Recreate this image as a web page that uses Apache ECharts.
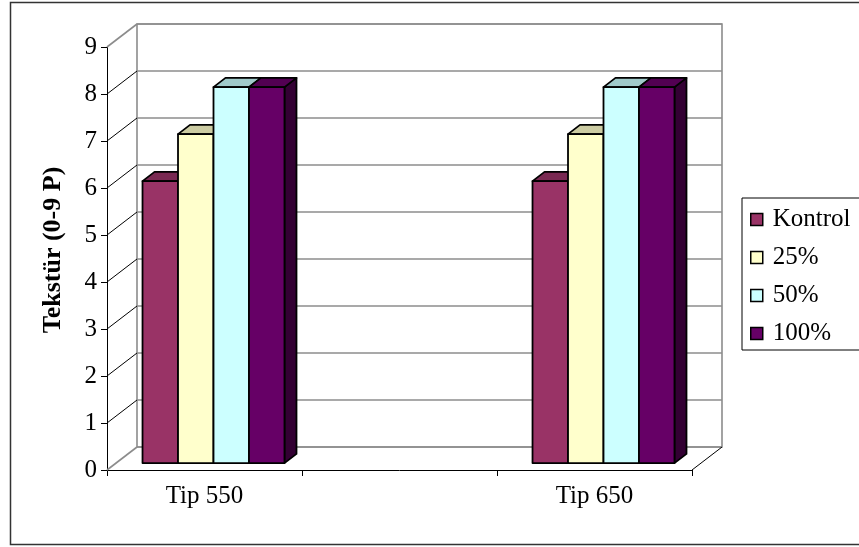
<!DOCTYPE html>
<html><head><meta charset="utf-8">
<script src="https://cdn.jsdelivr.net/npm/echarts@6/dist/echarts.min.js"></script>
<style>html,body{margin:0;padding:0;background:#fff}#c{width:859px;height:547px}</style>
</head><body><div id="c"></div>
<script>
const categories = ['Tip 550', '', 'Tip 650'];
const seriesNames = ['Kontrol', '25%', '50%', '100%'];
const kontrol = [6, null, 6];
const p25 = [7, null, 7];
const p50 = [8, null, 8];
const p100 = [8, null, 8];
const yTicks = [0, 1, 2, 3, 4, 5, 6, 7, 8, 9];
const yTitle = 'Tekstür (0-9 P)';
const values = [kontrol, p25, p50, p100];

const FONT = '"Liberation Serif", "Times New Roman", serif';
const frontC = ['#993366', '#FFFFCC', '#CCFFFF', '#660066'];
const topC = ['#7a2952', '#cccca3', '#a0caca', '#520052'];
const sideC = ['#4d1a33', '#808066', '#668080', '#330033'];
const DEPTH = [30, -23];

function barRender(sIdx) {
  return function (params, api) {
    const v = api.value(1);
    if (v == null || isNaN(v)) return;
    const base = api.coord([api.value(0), 0]);
    const topP = api.coord([api.value(0), v]);
    const band = api.size([1, 0])[0];
    const gw = band * 0.728, bw = gw / 4;
    const fx = DEPTH[0] * 0.3, fy = DEPTH[1] * 0.3;
    const dx = DEPTH[0] * 0.4, dy = DEPTH[1] * 0.4;
    const x0 = base[0] - gw / 2 + sIdx * bw + fx;
    const x1 = x0 + bw;
    const yb = base[1] + fy, yt = topP[1] + fy;
    const st = { stroke: '#000', lineWidth: 1.8, lineJoin: 'round' };
    return { type: 'group', children: [
      { type: 'polygon', shape: { points: [[x1, yt], [x1 + dx, yt + dy], [x1 + dx, yb + dy], [x1, yb]] }, style: Object.assign({ fill: sideC[sIdx] }, st) },
      { type: 'polygon', shape: { points: [[x0, yt], [x0 + dx, yt + dy], [x1 + dx, yt + dy], [x1, yt]] }, style: Object.assign({ fill: topC[sIdx] }, st) },
      { type: 'rect', shape: { x: x0, y: yt, width: bw, height: yb - yt }, style: Object.assign({ fill: frontC[sIdx] }, st) }
    ] };
  };
}

function wallRender(params, api) {
  const v = api.value(1);
  const cs = params.coordSys;
  const y = api.coord([0, v])[1];
  const x = cs.x;
  const edge = (v === yTicks[0] || v === yTicks[yTicks.length - 1]);
  const children = [{
    type: 'line',
    shape: { x1: x, y1: y, x2: x + DEPTH[0], y2: y + DEPTH[1] },
    style: { stroke: edge ? '#8c8c8c' : '#000', lineWidth: edge ? 1.6 : 1 }
  }];
  if (v === yTicks[0]) {
    const xr = cs.x + cs.width;
    children.push({
      type: 'line',
      shape: { x1: xr, y1: y, x2: xr + DEPTH[0], y2: y + DEPTH[1] },
      style: { stroke: '#000', lineWidth: 1 }
    });
  }
  return { type: 'group', children: children };
}

const chart = echarts.init(document.getElementById('c'));
const barSeries = values.map((arr, i) => ({
  name: seriesNames[i],
  type: 'custom',
  xAxisIndex: 0, yAxisIndex: 0,
  renderItem: barRender(i),
  itemStyle: { color: frontC[i] },
  encode: { x: 0, y: 1 },
  data: arr.map((v, k) => [k, v == null ? '-' : v]),
  z: 5
}));

chart.setOption({
  animation: false,
  backgroundColor: '#fff',
  grid: [
    { left: 107, top: 47, width: 585, height: 423 },
    { left: 137, top: 24, width: 585, height: 423, show: true, borderColor: '#8c8c8c', borderWidth: 1.6, backgroundColor: 'transparent' }
  ],
  xAxis: [
    { type: 'category', gridIndex: 0, data: categories, boundaryGap: true,
      axisLine: { lineStyle: { color: '#000', width: 1 } },
      axisTick: { show: true, length: 6, lineStyle: { color: '#000' } },
      axisLabel: { fontFamily: FONT, fontSize: 25, color: '#000', margin: 14, interval: 0 } },
    { type: 'category', gridIndex: 1, data: categories, show: false }
  ],
  yAxis: [
    { type: 'value', gridIndex: 0, min: 0, max: 9, interval: 1,
      axisLine: { show: true, lineStyle: { color: '#000', width: 1 } },
      axisTick: { show: true, length: 6, lineStyle: { color: '#000' } },
      splitLine: { show: false },
      axisLabel: { fontFamily: FONT, fontSize: 25, color: '#000', margin: 10 } },
    { type: 'value', gridIndex: 1, min: 0, max: 9, interval: 1,
      axisLine: { show: false }, axisTick: { show: false }, axisLabel: { show: false },
      splitLine: { show: true, lineStyle: { color: '#8c8c8c', width: 1.6 } } }
  ],
  legend: {
    data: seriesNames, orient: 'vertical', left: 742, top: 198,
    itemWidth: 12, itemHeight: 12, itemGap: 13, icon: 'rect',
    padding: [9, 40, 4, 8], borderColor: '#000', borderWidth: 1,
    itemStyle: { borderColor: '#000', borderWidth: 1.5 },
    textStyle: { fontFamily: FONT, fontSize: 25, color: '#000', lineHeight: 25, padding: [0, 0, 0, 5] }
  },
  graphic: [
    { type: 'rect', silent: true, z: 100, shape: { x: 10.5, y: 2.5, width: 900, height: 542 },
      style: { fill: 'none', stroke: '#333', lineWidth: 1.5 } },
    { type: 'text', silent: true, x: 53, y: 250, rotation: Math.PI / 2,
      style: { text: yTitle, fontFamily: FONT, fontSize: 26, fontWeight: 'bold', fill: '#000', align: 'center', verticalAlign: 'middle' } }
  ],
  series: [
    { type: 'custom', name: 'walls', xAxisIndex: 0, yAxisIndex: 0, renderItem: wallRender,
      encode: { x: 0, y: 1 }, data: yTicks.map(v => [0, v]), silent: true, z: 1 }
  ].concat(barSeries)
});
</script></body></html>
